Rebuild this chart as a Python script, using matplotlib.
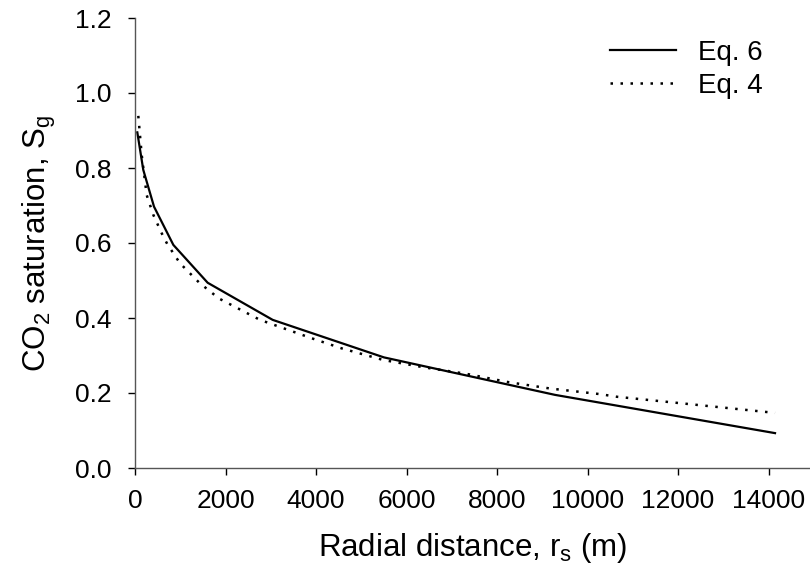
import matplotlib
matplotlib.use('Agg')
import matplotlib.pyplot as plt

plt.rcParams['font.family'] = 'Liberation Sans'
plt.rcParams['mathtext.fontset'] = 'custom'
plt.rcParams['mathtext.rm'] = 'Liberation Sans'
plt.rcParams['mathtext.it'] = 'Liberation Sans:italic'

# Eq. 6 (piecewise, read at Sg = 0.9 ... 0.1)
r_eq6 = [51, 183, 420, 847, 1606, 3043, 5500, 9282, 14144]
sg_eq6 = [0.895, 0.795, 0.697, 0.595, 0.494, 0.395, 0.295, 0.195, 0.093]

# Eq. 4 (smooth curve)
r_eq4 = [73, 148, 258, 405, 590, 714, 994, 1421, 1856, 2762, 3904, 4568, 5488,
         6409, 7330, 8250, 9171, 10276, 10646, 12118, 14144]
sg_eq4 = [0.939, 0.835, 0.728, 0.675, 0.626, 0.597, 0.546, 0.494, 0.452, 0.395,
          0.346, 0.319, 0.288, 0.268, 0.251, 0.229, 0.212, 0.197, 0.190, 0.172, 0.147]

fig = plt.figure(figsize=(8.1, 5.77), dpi=100)
ax = fig.add_axes([135/810, 1-468/577, 1-135/810, 450/577])

ax.plot(r_eq6, sg_eq6, color='black', lw=1.6, label='Eq. 6')
ax.plot(r_eq4, sg_eq4, color='black', lw=1.8, linestyle=(0, (1, 3.0)), label='Eq. 4')

ax.set_xlim(0, 14917)
ax.set_ylim(0, 1.2)
ax.set_xticks(range(0, 14001, 2000))
ax.set_yticks([0.0, 0.2, 0.4, 0.6, 0.8, 1.0, 1.2])
ax.set_yticklabels(['0.0', '0.2', '0.4', '0.6', '0.8', '1.0', '1.2'])

for s in ['top', 'right']:
    ax.spines[s].set_visible(False)
for s in ['left', 'bottom']:
    ax.spines[s].set_color('#555555')
    ax.spines[s].set_linewidth(1.0)
ax.tick_params(direction='out', length=5, width=1, color='black', labelsize=19)
ax.tick_params(axis='x', pad=10)
ax.tick_params(axis='y', pad=12)

ax.set_xlabel('Radial distance, r$_\\mathrm{s}$ (m)', fontsize=22.5, labelpad=13)
ax.set_ylabel('CO$_\\mathrm{2}$ saturation, S$_\\mathrm{g}$', fontsize=22.5, labelpad=12)

ax.legend(loc='upper left', bbox_to_anchor=(0.703, 0.952), frameon=False, fontsize=20,
          handlelength=2.4, handletextpad=0.8, labelspacing=0.25, borderaxespad=0,
          borderpad=0)

fig.savefig('out.png', dpi=100)
